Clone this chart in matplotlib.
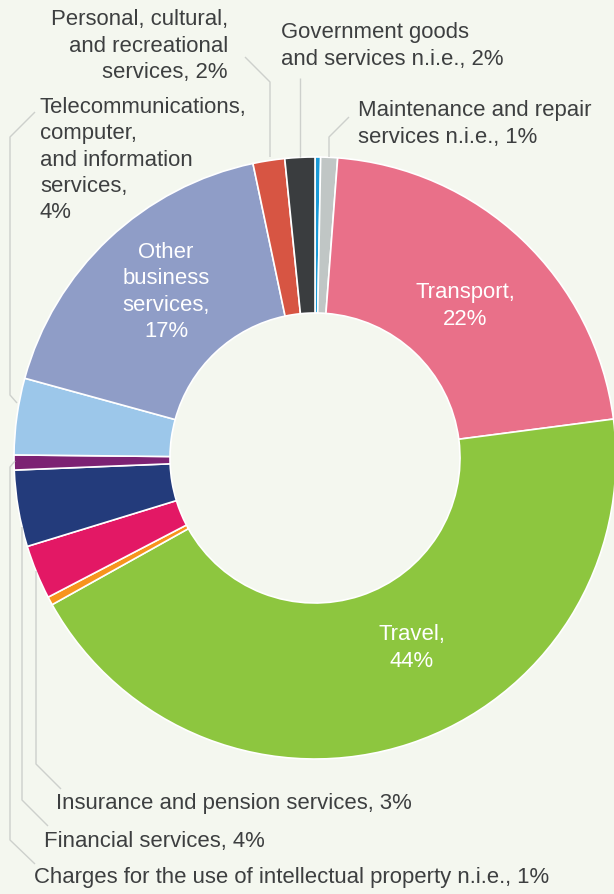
"""
Donut chart of services trade by category (share of total, %).
Output: out.png (614 x 894 px)
"""

import matplotlib.pyplot as plt

# ── Data ──────────────────────────────────────────────────────────────────────
categories = [
    "Unallocated", "Maintenance and repair services n.i.e.", "Transport", "Travel",
    "Construction", "Insurance and pension services", "Financial services",
    "Charges for the use of intellectual property n.i.e.",
    "Telecommunications, computer, and information services",
    "Other business services", "Personal, cultural, and recreational services",
    "Government goods and services n.i.e.",
]
shares = [0.3, 0.9, 21.7, 43.9, 0.45, 2.9, 4.1, 0.8, 4.1, 17.4, 1.7, 1.6]
colors = [
    "#1a9ad6", "#c0c6c5", "#e97089", "#8dc63f", "#f7941d", "#e31865",
    "#233b7b", "#7c2273", "#9cc7ea", "#8f9dc7", "#d75543", "#3a3d3f",
]

# ── Style ─────────────────────────────────────────────────────────────────────
BG        = "#f4f7ef"
TEXT_COL  = "#3d3f40"
LINE_COL  = "#cdd0cc"
FONT      = "Liberation Sans"
FS        = 15.9
LS        = 1.34
W, H      = 614, 894
CX, CY, R = 315, 458, 301     # donut centre / outer radius in pixels
R_IN      = 145

plt.rcParams["font.family"] = [FONT, "DejaVu Sans"]

fig = plt.figure(figsize=(W / 100, H / 100), dpi=100, facecolor=BG)

# pie axes sized so the unit circle maps to the pixel radius
ax = fig.add_axes([(CX - R) / W, (H - CY - R) / H, 2 * R / W, 2 * R / H])
ax.pie(shares, colors=colors, startangle=90, counterclock=False, radius=1,
       wedgeprops=dict(width=1 - R_IN / R, edgecolor="white", linewidth=1.2))
ax.set_xlim(-1, 1)
ax.set_ylim(-1, 1)
ax.set_aspect("equal")
ax.axis("off")

# overlay in pixel coordinates for labels and leader lines
ov = fig.add_axes([0, 0, 1, 1], facecolor="none")
ov.set_xlim(0, W)
ov.set_ylim(H, 0)
ov.axis("off")

# outside labels: (text, x, y, ha)
outside = [
    ("Personal, cultural,\nand recreational\nservices, 2%", 228, 46, "right"),
    ("Government goods\nand services n.i.e., 2%", 281, 46, "left"),
    ("Maintenance and repair\nservices n.i.e., 1%", 358, 124, "left"),
    ("Telecommunications,\ncomputer,\nand information\nservices,\n4%", 40, 160, "left"),
    ("Insurance and pension services, 3%", 56, 804, "left"),
    ("Financial services, 4%", 44, 841, "left"),
    ("Charges for the use of intellectual property n.i.e., 1%", 34, 878, "left"),
]
for txt, x, y, ha in outside:
    ov.text(x, y, txt, ha=ha, va="center", fontsize=FS, color=TEXT_COL,
            linespacing=LS)

# inside labels
inside = [
    ("Other\nbusiness\nservices,\n17%", 166, 292),
    ("Transport,\n22%", 465, 306),
    ("Travel,\n44%", 412, 648),
]
for txt, x, y in inside:
    ov.text(x, y, txt, ha="center", va="center", fontsize=FS, color="white",
            linespacing=LS)

# leader lines (pixel polylines)
leaders = [
    [(245, 57), (270, 82), (270, 157)],
    [(300, 78), (300, 157)],
    [(349, 117), (329, 137), (329, 157)],
    [(35, 112), (10, 137), (10, 395), (17, 403)],
    [(15, 461), (10, 467), (10, 840), (35, 864)],
    [(22, 527), (22, 800), (48, 826)],
    [(36, 571), (36, 764), (61, 789)],
]
for pts in leaders:
    xs, ys = zip(*pts)
    ov.plot(xs, ys, color=LINE_COL, linewidth=1.0, solid_capstyle="butt")

fig.savefig("out.png", dpi=100, facecolor=BG)
